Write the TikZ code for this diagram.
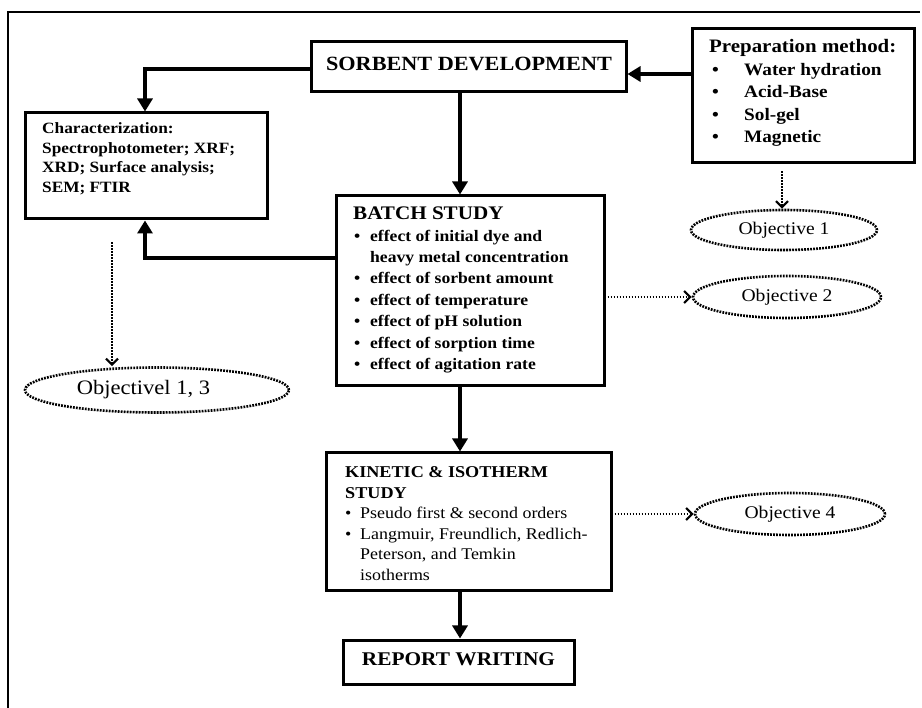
\documentclass[tikz,border=0pt]{standalone}
\usepackage{fontspec}
\setmainfont{Liberation Serif}[FakeStretch=1.1]
\usetikzlibrary{arrows.meta,shapes.geometric}
\tikzset{
  boxnode/.style={draw, line width=3pt, rectangle, inner sep=0pt},
  txt/.style={anchor=west, inner sep=0pt, align=left},
  thickarr/.style={line width=4.5pt, -{Triangle[length=13pt,width=15pt]}},
  dotarr/.style={line width=2.6pt, dash pattern=on 1.8pt off 1.2pt, -{Straight Barb[length=6pt,width=12pt,line width=2.2pt]}},
  objnode/.style={draw, ellipse, line width=2.6pt, dash pattern=on 1.8pt off 1.2pt, inner sep=0pt, font=\fontsize{17.8}{22}\selectfont},
}
\newcommand\bulA[2]{\hspace*{#1}\rlap{\textbullet}\hspace*{#2}}
\begin{document}
\begin{tikzpicture}[x=1pt,y=-1pt]
\useasboundingbox (0,0) rectangle (922,708);
% outer frame
\draw[line width=1.5pt] (8,708) -- (8,12) -- (920,12);

% boxes
\node[boxnode, minimum width=315pt, minimum height=50pt] (sorb) at (468.5,67) {};
\node[boxnode, minimum width=222pt, minimum height=134pt] (prep) at (803,96) {};
\node[boxnode, minimum width=242pt, minimum height=106pt] (char) at (146,166) {};
\node[boxnode, minimum width=268pt, minimum height=190pt] (batch) at (470,291) {};
\node[boxnode, minimum width=285pt, minimum height=138pt] (kin) at (468.5,522) {};
\node[boxnode, minimum width=231pt, minimum height=44pt] (rep) at (458.5,662) {};

% texts
\node[inner sep=0pt, font=\fontsize{20.2}{22}\selectfont\bfseries] (sorbt) at (469,64) {SORBENT DEVELOPMENT};
\node[txt, font=\fontsize{17.5}{22.5}\selectfont\bfseries] (prept) at (709,93) {{\fontsize{19}{22.5}\selectfont Preparation method:}\\
\bulA{3pt}{32pt}Water hydration\\
\bulA{3pt}{32pt}Acid-Base\\
\bulA{3pt}{32pt}Sol-gel\\
\bulA{3pt}{32pt}Magnetic};
\node[txt, font=\fontsize{15.7}{19.5}\selectfont\bfseries] (chart) at (42,159) {Characterization:\\
Spectrophotometer; XRF;\\
XRD; Surface analysis;\\
SEM; FTIR};
\node[txt, font=\fontsize{16}{21.4}\selectfont\bfseries] (batcht) at (353,290) {{\fontsize{19.2}{21.4}\selectfont BATCH STUDY}\\
\bulA{1pt}{16pt}effect of initial dye and\\
\hspace*{17pt}heavy metal concentration\\
\bulA{1pt}{16pt}effect of sorbent amount\\
\bulA{1pt}{16pt}effect of temperature\\
\bulA{1pt}{16pt}effect of pH solution\\
\bulA{1pt}{16pt}effect of sorption time\\
\bulA{1pt}{16pt}effect of agitation rate};
\node[txt, font=\fontsize{16.3}{20.6}\selectfont] (kint) at (345,523.5) {{\fontsize{16.5}{20.6}\selectfont\bfseries KINETIC \& ISOTHERM}\\
{\fontsize{16.5}{20.6}\selectfont\bfseries STUDY}\\
\bulA{0pt}{15pt}Pseudo first \& second orders\\
\bulA{0pt}{15pt}Langmuir, Freundlich, Redlich-\\
\hspace*{15pt}Peterson, and Temkin\\
\hspace*{15pt}isotherms};
\node[inner sep=0pt, font=\fontsize{19.4}{22}\selectfont\bfseries] (rept) at (458.5,659) {REPORT WRITING};

% objectives
\node[objnode, minimum width=186pt, minimum height=40pt] (o1) at (784,230) {Objective 1};
\node[objnode, minimum width=188pt, minimum height=42pt] (o2) at (787,297) {Objective 2};
\node[objnode, minimum width=264pt, minimum height=45pt, font=\fontsize{20.5}{22}\selectfont] (o13) at (157,390) {Objectivel 1, 3\hspace*{27pt}};
\node[objnode, minimum width=190pt, minimum height=42pt] (o4) at (790,514) {Objective 4};

% thick arrows
\draw[thickarr] (sorb.west |- 0,69) -| (char.north -| 145,0);
\draw[thickarr] (prep.west |- 0,74) -- (sorb.east |- 0,74);
\draw[thickarr] (sorb.south -| 460,0) -- (batch.north -| 460,0);
\draw[thickarr] (batch.west |- 0,258) -| (char.south -| 145,0);
\draw[thickarr] (batch.south -| 460,0) -- (kin.north -| 460,0);
\draw[thickarr] (kin.south -| 460,0) -- (rep.north -| 460,0);

% dotted arrows
\draw[dotarr, shorten <=22pt] (char.south -| 112,0) -- (o13.north -| 112,0);
\draw[dotarr, shorten <=7pt] (prep.south -| 782,0) -- (o1.north -| 782,0);
\draw[dotarr, shorten <=2pt] (batch.east |- 0,297) -- (o2.west);
\draw[dotarr, shorten <=2pt] (kin.east |- 0,514) -- (o4.west);
\end{tikzpicture}
\end{document}
